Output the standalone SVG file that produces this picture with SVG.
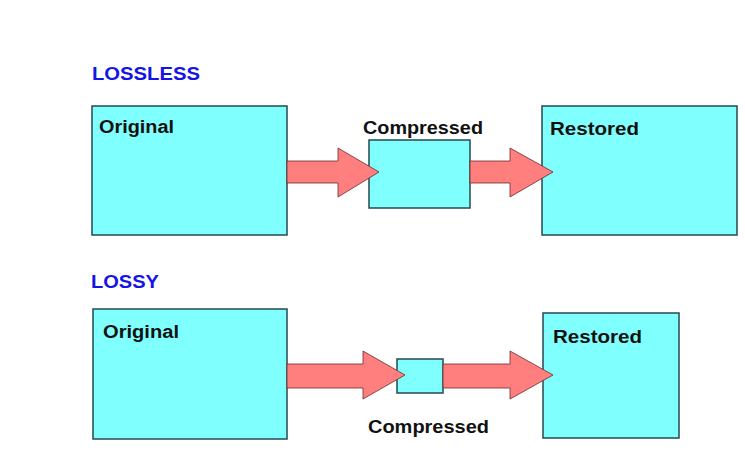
<svg xmlns="http://www.w3.org/2000/svg" width="745" height="459" viewBox="0 0 745 459">
<style>
.box{fill:#80FFFF;stroke:#264a50;stroke-width:1.5}
.lbl{font-family:"Liberation Sans",Arial,sans-serif;font-weight:bold;font-size:18px;fill:#111}
.hd{font-family:"Liberation Sans",Arial,sans-serif;font-weight:bold;font-size:18px;fill:#1414E6}
.arr{fill:#FF7F7F;stroke:#6a2a2a;stroke-width:0.8;stroke-linejoin:miter}
</style>
<rect width="745" height="459" fill="#fff"/>
<text class="hd" x="92" y="80" textLength="108" lengthAdjust="spacingAndGlyphs">LOSSLESS</text>
<text class="hd" x="91" y="288" textLength="68" lengthAdjust="spacingAndGlyphs">LOSSY</text>
<g id="orig1"><rect class="box" x="92" y="106" width="195" height="129"/><text class="lbl" x="99" y="133" textLength="75" lengthAdjust="spacingAndGlyphs">Original</text></g>
<g id="comp1"><rect class="box" x="369" y="140" width="101" height="68"/><text class="lbl" x="363" y="134" textLength="120" lengthAdjust="spacingAndGlyphs">Compressed</text></g>
<g id="rest1"><rect class="box" x="542" y="106" width="195" height="129"/><text class="lbl" x="550" y="135" textLength="89" lengthAdjust="spacingAndGlyphs">Restored</text></g>
<g id="orig2"><rect class="box" x="93" y="309" width="194" height="130"/><text class="lbl" x="103" y="338" textLength="76" lengthAdjust="spacingAndGlyphs">Original</text></g>
<g id="comp2"><rect class="box" x="397" y="359" width="46" height="34"/><text class="lbl" x="368" y="433" textLength="121" lengthAdjust="spacingAndGlyphs">Compressed</text></g>
<g id="rest2"><rect class="box" x="543" y="313" width="136" height="125"/><text class="lbl" x="553" y="343" textLength="89" lengthAdjust="spacingAndGlyphs">Restored</text></g>
<g id="connectors">
<polygon class="arr" points="287,161 338,161 338,148 379,172 338,197 338,183 287,183"/>
<polygon class="arr" points="470,161 510,161 510,148 553,172 510,197 510,183 470,183"/>
<polygon class="arr" points="287,364 363,364 363,351 405,375 363,399 363,388 287,388"/>
<polygon class="arr" points="443,364 510,364 510,351 553,375 510,399 510,388 443,388"/>
</g>
</svg>
